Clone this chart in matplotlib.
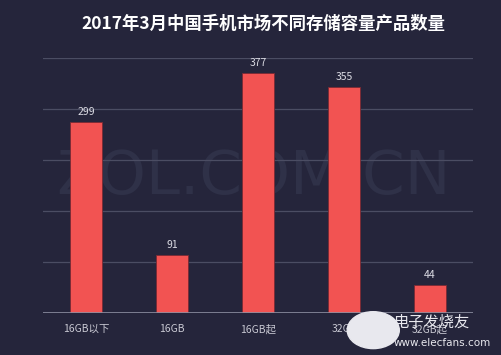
import matplotlib.pyplot as plt
import numpy as np

plt.rcParams['font.family'] = ['Noto Sans CJK SC', 'DejaVu Sans']

categories = ['16GB以下', '16GB', '16GB起', '32GB', '32GB起']
counts = [299, 91, 377, 355, 44]
yticks = [80, 160, 240, 320, 400]

bg = '#25253b'
bar_color = '#f25352'

fig = plt.figure(figsize=(5.01, 3.55), dpi=100, facecolor=bg)
ax = fig.add_axes([43 / 501, 42 / 355, 430 / 501, 255 / 355], facecolor=bg)

x = np.arange(len(categories))
# faint watermark behind the bars
ax.text(0.49, 0.53, 'ZOL.COM.CN', transform=ax.transAxes, ha='center', va='center',
        fontsize=44, color='#2f3148', family='DejaVu Sans', zorder=0)

for t in yticks:
    ax.axhline(t, color='#4b4d63', lw=0.9, zorder=1)

ax.bar(x, counts, width=0.37, color=bar_color, edgecolor='#7a2a33', linewidth=0.6, zorder=2)
for xi, v in zip(x, counts):
    ax.text(xi, v + 8, str(v), ha='center', va='bottom', fontsize=7.5, color='#dcdce4', zorder=3)

ax.axhline(0, color='#8c8ea0', lw=1.2, zorder=3)

ax.set_xlim(-0.5, len(categories) - 0.5)
ax.set_ylim(0, 400)
ax.set_yticks([])
ax.set_xticks(x)
ax.set_xticklabels(categories, fontsize=7.5, color='#c8c8d2')
ax.tick_params(axis='x', length=0, pad=8)
for s in ax.spines.values():
    s.set_visible(False)

fig.text(0.525, 0.933, '2017年3月中国手机市场不同存储容量产品数量', ha='center', va='center',
         fontsize=12.5, fontweight='bold', color='white')

# elecfans overlay in corner
fig.text(0.785, 0.092, '电子发烧友', ha='left', va='center', fontsize=11, color='#e8e8ee', zorder=6)
fig.text(0.785, 0.035, 'www.elecfans.com', ha='left', va='center', fontsize=7.5, color='#e8e8ee',
         family='DejaVu Sans', zorder=6)
circ = plt.Circle((0.745, 0.07), 0.052, transform=fig.transFigure, color='#e8e8ee', zorder=5)
fig.patches.append(circ)

fig.savefig('out.png', dpi=100, facecolor=bg)
